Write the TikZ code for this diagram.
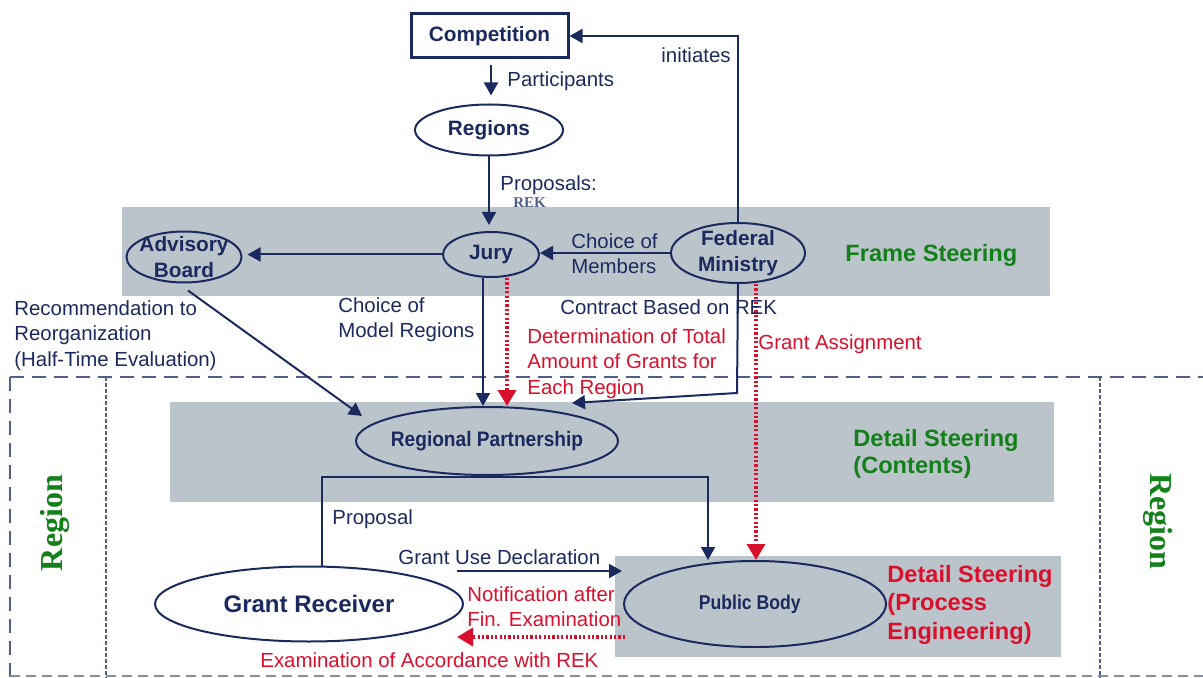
\documentclass[tikz,border=0pt]{standalone}
\usepackage{fontspec}
\setmainfont{Liberation Sans}
\newfontfamily\serifb{Liberation Serif}
\usetikzlibrary{shapes.geometric,arrows.meta,calc}
\definecolor{navy}{HTML}{1B2A5E}
\definecolor{rred}{HTML}{D8102C}
\definecolor{grn}{HTML}{13801A}
\definecolor{bandc}{HTML}{BCC4CB}
\definecolor{dashc}{HTML}{4F5F85}
\begin{document}
\begin{tikzpicture}[x=0.5pt,y=-0.5pt,
  ell/.style={ellipse,draw=navy,line width=1pt,inner sep=0pt},
  etext/.style={text=navy,inner sep=0pt,align=center,font=\fontsize{10.4}{12.8}\selectfont\bfseries},
  lab/.style={font=\fontsize{10.2}{12.8}\selectfont,text=navy,inner sep=0pt,align=left},
  rlab/.style={lab,text=rred},
  arr/.style={draw=navy,line width=1pt,-{Triangle[length=6.5pt,width=7pt]}},
  rarr/.style={draw=rred,line width=1.8pt,dash pattern=on 1.1pt off 1.1pt,-{Triangle[length=8pt,width=9pt]}},
  steer/.style={font=\fontsize{11.8}{14}\selectfont\bfseries,inner sep=0pt,align=left},
  regtext/.style={font=\serifb\bfseries\fontsize{16}{18}\selectfont,text=grn,inner sep=0pt},
]
\useasboundingbox (0,0) rectangle (1203,678);
\fill[white] (0,0) rectangle (1203,678);

% bands
\fill[bandc] (122,207) rectangle (1050,296);
\fill[bandc] (170,402) rectangle (1054,502);
\fill[bandc] (615,556) rectangle (1061,657);

% region boundaries
\draw[dashc,line width=1pt,dash pattern=on 7pt off 4pt] (10,377) -- (1203,377);
\draw[dashc,line width=1pt,dash pattern=on 7pt off 4pt] (10,377) -- (10,678);
\draw[dashc!70,line width=0.7pt,dash pattern=on 5pt off 3pt] (10,676) -- (1203,676);
\draw[dashc,line width=0.6pt,dash pattern=on 2pt off 1pt] (106,377) -- (106,678);
\draw[dashc,line width=0.6pt,dash pattern=on 2pt off 1pt] (1100,377) -- (1100,678);
\node[regtext,rotate=90] (regL) at (55,523) {Region};
\node[regtext,rotate=-90] (regR) at (1158,521) {Region};

% nodes
\node[draw=navy,line width=1.5pt,minimum width=78.5pt,minimum height=22pt,inner sep=0pt,
      text=navy,font=\fontsize{10.4}{12.8}\selectfont\bfseries] (comp) at (489.5,36) {Competition};
\node[ell,minimum width=74pt,minimum height=25.5pt,label={[etext]center:Regions}] (reg) at (489,130) {};
\node[ell,minimum width=48pt,minimum height=22.5pt,label={[etext]center:Jury}] (jury) at (491,254.5) {};
\node[ell,minimum width=67pt,minimum height=30pt,label={[etext]center:Federal\\Ministry}] (fm) at (738,253) {};
\node[ell,minimum width=57.5pt,minimum height=25.5pt,label={[etext]center:Advisory\\Board}] (ab) at (184,257) {};
\node[ell,minimum width=131pt,minimum height=34pt,
      label={[etext,xscale=0.91,font=\fontsize{10.5}{12}\selectfont\bfseries]center:Regional Partnership}] (rp) at (487,441) {};
\node[ell,minimum width=154pt,minimum height=37.5pt,
      label={[etext,font=\fontsize{12}{14}\selectfont\bfseries]center:Grant Receiver}] (gr) at (309,604) {};
\node[ell,minimum width=131pt,minimum height=43pt,
      label={[etext,xscale=0.88,xshift=-3pt,font=\fontsize{10}{12}\selectfont\bfseries]center:Public Body}] (pb) at (755,604) {};

% coordinates for free ends
\coordinate (pcorner) at (708,477);
\coordinate (gudS) at (457,571);
\coordinate (gudE) at (622,571);
\coordinate (exS) at (625,637);
\coordinate (exE) at (457,637);
\coordinate (cbend) at (737,393);
\coordinate (ctip) at (572,403);
\coordinate (abtip) at (362,416);

% connectors
\draw[arr,shorten <=3pt,shorten >=4pt] (comp.south -| 491,0) -- (reg.north -| 491,0);
\draw[arr] (fm.north) |- (comp.east);
\draw[arr,shorten >=3pt] (reg.south) -- (jury.north -| reg.south);
\draw[arr] (fm.west) -- (fm.west -| jury.east);
\draw[arr,shorten >=2.5pt] (jury.west) -- (jury.west -| ab.east);
\draw[arr] ($(ab.south)+(2pt,-3.5pt)$) -- (abtip);
\draw[arr] ([xshift=-4pt]jury.south) -- ([xshift=-4pt]jury.south |- rp.north);
\draw[rarr] ([xshift=8pt]jury.south) -- ([xshift=8pt]jury.south |- rp.north);
\draw[arr] (fm.south) -- (cbend) -- (ctip);
\draw[rarr] ([xshift=9pt]fm.south) -- ([xshift=9pt]fm.south |- pb.north);
\draw[arr] ([xshift=6.5pt]gr.north) |- (pcorner) -- (pcorner |- pb.north);
\draw[arr] (gudS) -- (gudE);
\draw[rarr] (exS) -- (exE);

% labels
\node[lab,anchor=north west] at (507,71) {Participants};
\node[lab,anchor=north west] at (661,47) {initiates};
\node[lab,anchor=north west] at (500,175) {Proposals:};
\node[font=\serifb\bfseries\fontsize{7.5}{9}\selectfont,text=dashc,anchor=west,inner sep=0pt] at (513,203) {REK};
\node[lab,anchor=north west] at (571,233) {Choice of\\Members};
\node[steer,text=grn,anchor=west] at (845,255) {Frame Steering};
\node[lab,anchor=north west] at (14,300) {Recommendation to\\Reorganization\\(Half-Time Evaluation)};
\node[lab,anchor=north west] at (338,297) {Choice of\\Model Regions};
\node[lab,anchor=north west] at (560,299) {Contract Based on REK};
\node[rlab,anchor=north west] at (527,328) {Determination of Total\\Amount of Grants for\\Each Region};
\node[rlab,anchor=north west] at (758,334) {Grant Assignment};
\node[steer,text=grn,anchor=north west,font=\fontsize{11.8}{13.5}\selectfont\bfseries] at (853,429) {Detail Steering\\(Contents)};
\node[lab,anchor=north west] at (332,509) {Proposal};
\node[lab,anchor=north west] at (398,549) {Grant Use Declaration};
\node[rlab,anchor=north west] at (467,586) {Notification after\\Fin. Examination};
\node[rlab,anchor=north west] at (260,652) {Examination of Accordance with REK};
\node[steer,text=rred,anchor=north west,font=\fontsize{11.8}{14.2}\selectfont\bfseries] at (887,565) {Detail Steering\\(Process\\Engineering)};
\end{tikzpicture}
\end{document}
